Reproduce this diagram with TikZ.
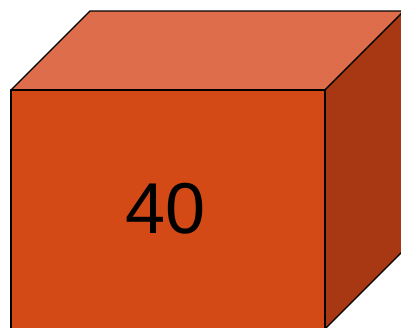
\documentclass[tikz,border=0pt]{standalone}
\usepackage{fontspec}
\setmainfont{Liberation Sans}
\definecolor{frontc}{RGB}{211,74,22}
\definecolor{topc}{RGB}{222,110,75}
\definecolor{sidec}{RGB}{168,56,20}
\begin{document}
\begin{tikzpicture}[x=1pt,y=-1pt,
  facestyle/.style={draw=black,line width=1.3pt,line join=round}]
\useasboundingbox (0,0) rectangle (401,327);
\clip (0,0) rectangle (401,327);
\coordinate (ftl) at (11,90);
\coordinate (ftr) at (325,90);
\coordinate (fbl) at (11,329);
\coordinate (fbr) at (325,329);
\coordinate (btl) at (90,11);
\coordinate (btr) at (404,11);
\coordinate (bbr) at (404,250);
\fill[topc,facestyle] (ftl) -- (btl) -- (btr) -- (ftr) -- cycle;
\fill[sidec,facestyle] (ftr) -- (btr) -- (bbr) -- (fbr) -- cycle;
\fill[frontc,facestyle] (ftl) -- (ftr) -- (fbr) -- (fbl) -- cycle;
\node[font=\fontsize{72}{80}\selectfont,inner sep=0pt] (label) at (166,209) {40};
\end{tikzpicture}
\end{document}
